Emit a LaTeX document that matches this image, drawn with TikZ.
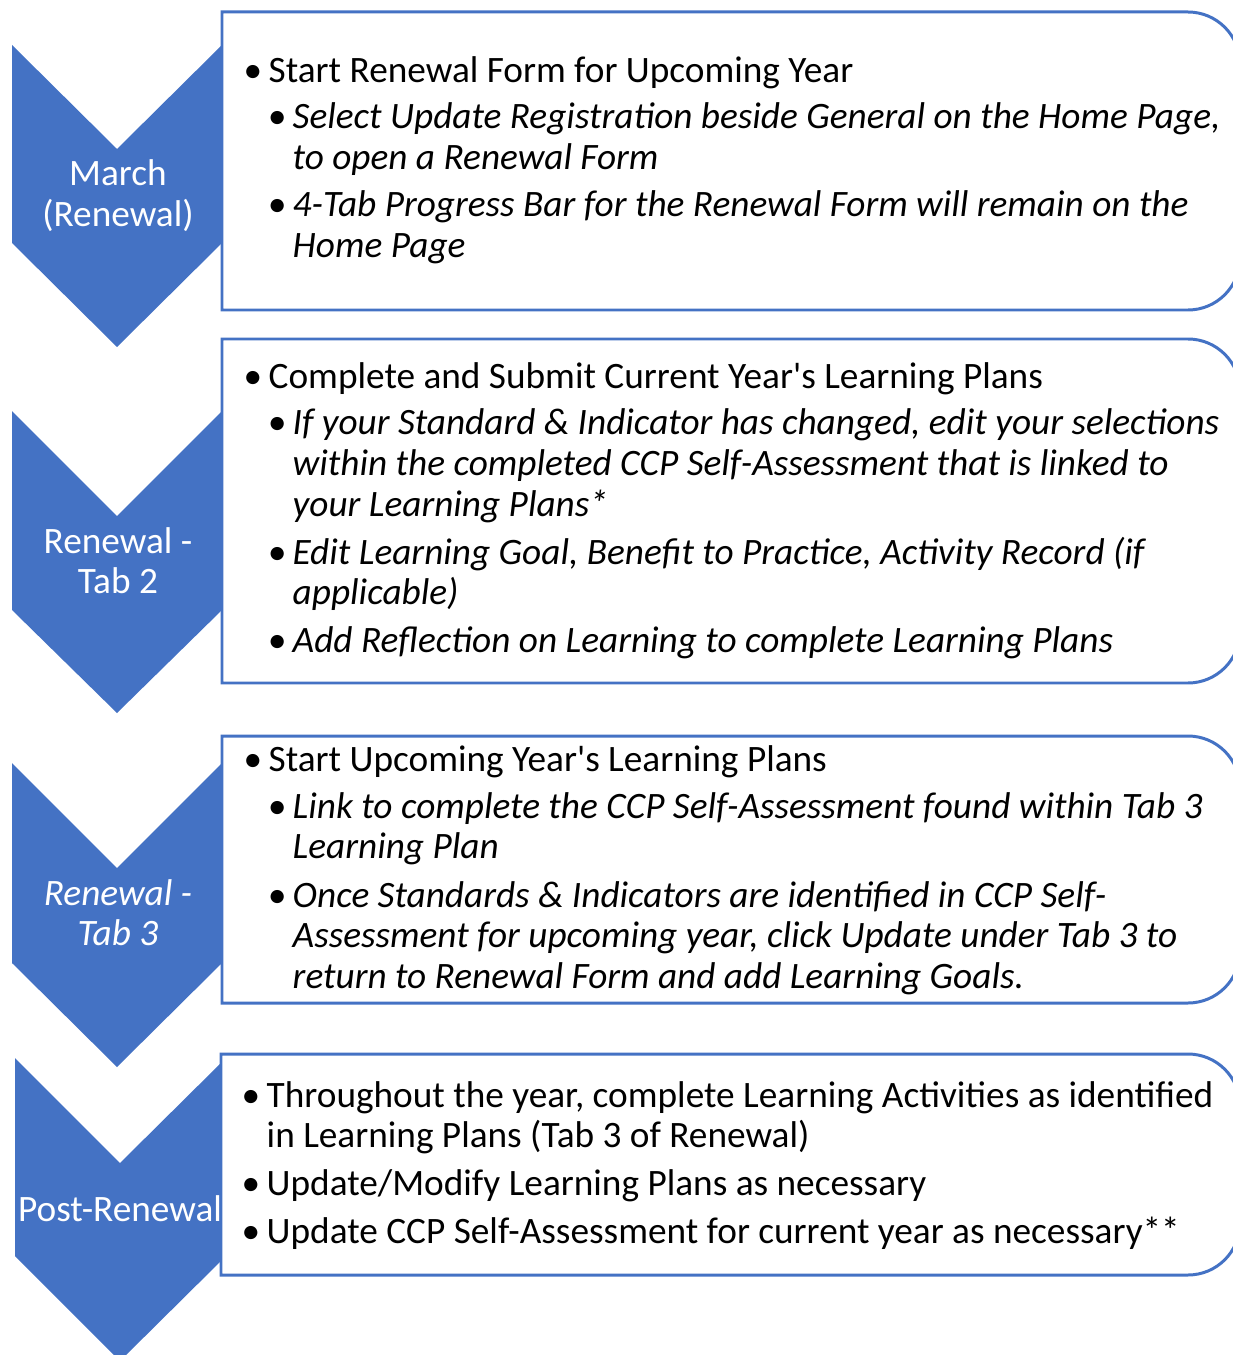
\documentclass[tikz,border=0pt]{standalone}
\usepackage{fontspec}
\setmainfont{Carlito}
\definecolor{officeblue}{RGB}{68, 114, 196}
\newcommand{\bul}[1]{\makebox[0.25cm][l]{\textbullet}\parbox[t]{12cm}{\raggedright #1}}
\newcommand{\steptext}[1]{\parbox[t]{2.4cm}{\centering #1}}

\begin{document}
\begin{tikzpicture}[x=0.01cm, y=-0.01cm,
    chevron/.style={fill=officeblue},
    stepbox/.style={draw=officeblue, line width=0.85pt, fill=white},
    steplabel/.style={anchor=base, inner sep=0pt, text=white, font=\fontsize{10.6pt}{11.6pt}\selectfont},
    item/.style={anchor=base west, inner sep=0pt, font=\fontsize{10.6pt}{11.6pt}\selectfont},
    subitem/.style={item, font=\fontsize{10.6pt}{11.6pt}\selectfont\itshape}]
            \useasboundingbox (0, 0) rectangle (1232, 1355);

            \fill[chevron] ( 12,   45) -- (117,  149) -- (222,   45) -- (222,  243) -- (117,  347) -- ( 12,  243) -- cycle;
            \fill[chevron] ( 12,  411) -- (117,  516) -- (222,  411) -- (222,  610) -- (117,  713) -- ( 12,  610) -- cycle;
            \fill[chevron] ( 12,  763) -- (117,  868) -- (222,  763) -- (222,  963) -- (117, 1067) -- ( 12,  963) -- cycle;
            \fill[chevron] ( 15, 1058) -- (120, 1163) -- (226, 1058) -- (226, 1256) -- (120, 1361) -- ( 15, 1256) -- cycle;

            \draw[stepbox] (222,  310) -- (222,   12) -- (1100,   12) [rounded corners=14.8pt] -- (1240,   12) -- (1240,  310) -- (1100,  310) [sharp corners] -- cycle;
            \draw[stepbox] (222,  683) -- (222,  339) -- (1100,  339) [rounded corners=14.8pt] -- (1240,  339) -- (1240,  683) -- (1100,  683) [sharp corners] -- cycle;
            \draw[stepbox] (222, 1003) -- (222,  736) -- (1100,  736) [rounded corners=14.8pt] -- (1240,  736) -- (1240, 1003) -- (1100, 1003) [sharp corners] -- cycle;
            \draw[stepbox] (221, 1275) -- (221, 1054) -- (1100, 1054) [rounded corners=14.8pt] -- (1240, 1054) -- (1240, 1275) -- (1100, 1275) [sharp corners] -- cycle;

            \node[steplabel] (march)   at (118,  186) {\steptext{March\\(Renewal)}};
            \node[steplabel] (tabtwo)  at (118,  553) {\steptext{Renewal -\\Tab 2}};
            \node[steplabel] (tabthree) at (118,  905) {\steptext{\itshape Renewal -\\Tab 3}};
            \node[steplabel] (post)    at (120, 1221) {\steptext{Post-Renewal}};

            \node[item]    (start)   at (243,   83) {\bul{Start Renewal Form for Upcoming Year}};
            \node[subitem] (select)  at (267,  129) {\bul{Select Update Registration beside General on the Home Page,\\to open a Renewal Form}};
            \node[subitem] (progress) at (267,  217) {\bul{4-Tab Progress Bar for the Renewal Form will remain on the\\Home Page}};

            \node[item]    (submit)  at (243,  388) {\bul{Complete and Submit Current Year\textquotesingle s Learning Plans}};
            \node[subitem] (changed) at (267,  435) {\bul{If your Standard \& Indicator has changed, edit your selections\\within the completed CCP Self-Assessment that is linked to\\your Learning Plans*}};
            \node[subitem] (goal)    at (267,  564) {\bul{Edit Learning Goal, Benefit to Practice, Activity Record (if\\applicable)}};
            \node[subitem] (reflect) at (267,  652) {\bul{Add Reflection on Learning to complete Learning Plans}};

            \node[item]    (upcoming) at (243,  771) {\bul{Start Upcoming Year\textquotesingle s Learning Plans}};
            \node[subitem] (link)    at (267,  818) {\bul{Link to complete the CCP Self-Assessment found within Tab 3\\Learning Plan}};
            \node[subitem] (once)    at (267,  907) {\bul{Once Standards \& Indicators are identified in CCP Self-\\Assessment for upcoming year, click Update under Tab 3 to\\return to Renewal Form and add Learning Goals.}};

            \node[item]    (through) at (241, 1107) {\bul{Throughout the year, complete Learning Activities as identified\\in Learning Plans (Tab 3 of Renewal)}};
            \node[item]    (modify)  at (241, 1195) {\bul{Update/Modify Learning Plans as necessary}};
            \node[item]    (current) at (241, 1243) {\bul{Update CCP Self-Assessment for current year as necessary**}};
        \end{tikzpicture}
\end{document}
